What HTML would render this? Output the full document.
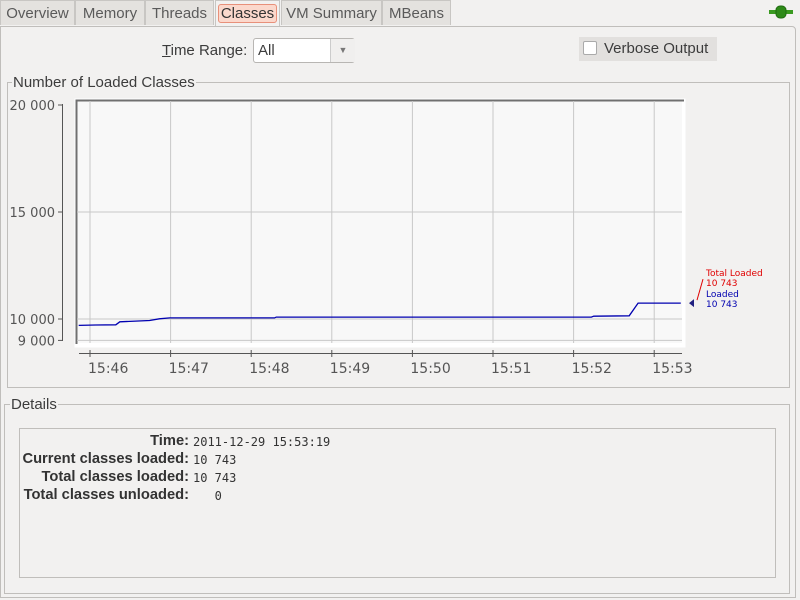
<!DOCTYPE html>
<html><head><meta charset="utf-8"><style>
body{margin:0;width:800px;height:600px;background:#f2f1f0;font-family:"Liberation Sans","DejaVu Sans",sans-serif;position:relative;overflow:hidden;color:#3c3c3c}
.tab{position:absolute;top:0;height:25px;border:1px solid #c8c6c3;border-bottom:none;background:#e4e2df;font-size:15px;color:#5a5a5a;line-height:25px;text-align:center;box-sizing:border-box}
.abs{position:absolute}
</style></head><body>
<div class="tab" style="left:0;width:75px">Overview</div>
<div class="tab" style="left:75px;width:70px">Memory</div>
<div class="tab" style="left:145px;width:69px">Threads</div>
<div class="tab" style="left:215px;width:65px;background:#f2f1f0;height:27px;color:#333"><span style="border:1px solid #e8907a;background:#fbd8cc;border-radius:3px;padding:0 2px">Classes</span></div>
<div class="tab" style="left:281px;width:101px">VM Summary</div>
<div class="tab" style="left:382px;width:69px">MBeans</div>
<svg class="abs" style="left:768px;top:4px" width="26" height="16"><rect x="1" y="6" width="24" height="4" fill="#3a9a20"/><rect x="8" y="2" width="10" height="12" rx="4" fill="#2e8a18" stroke="#1f6a10"/></svg>
<div class="abs" style="left:0;top:26px;width:796px;height:572px;border:1px solid #c0bebb;border-radius:0 4px 0 0;box-sizing:border-box"></div>
<div class="abs" style="left:162px;top:42px;font-size:15px"><u>T</u>ime Range:</div>
<div class="abs" style="left:253px;top:38px;width:102px;height:25px;border:1px solid #b8b6b3;border-radius:3px;background:#fff;box-sizing:border-box;font-size:15px;line-height:23px;padding-left:4px">All<span style="position:absolute;left:76px;top:0;width:24px;height:23px;border-left:1px solid #ccc;background:#f0efee;color:#777;font-size:9px;text-align:center">▼</span></div>
<div class="abs" style="left:579px;top:37px;width:138px;height:24px;background:#e2e0de;font-size:15px;line-height:24px"><span style="display:inline-block;width:12px;height:12px;border:1px solid #aaa;border-radius:2px;background:#fff;margin:0 7px 0 4px;vertical-align:-2px"></span>Verbose Output</div>
<div class="abs" style="left:7px;top:82px;width:783px;height:306px;border:1px solid #c0bebb;box-sizing:border-box"></div>
<div class="abs" style="left:12px;top:74px;background:#f2f1f0;font-size:15px;padding:0 1px">Number of Loaded Classes</div>
<div class="abs" style="left:4px;top:404px;width:786px;height:190px;border:1px solid #c0bebb;box-sizing:border-box"></div>
<div class="abs" style="left:10px;top:396px;background:#f2f1f0;font-size:15px;padding:0 1px">Details</div>
<div class="abs" style="left:19px;top:428px;width:757px;height:150px;border:1px solid #c0bebb;box-sizing:border-box"></div>
<div class="abs" style="left:0px;top:432px;width:189px;text-align:right;white-space:nowrap;font-weight:bold;font-size:14.7px;line-height:18px;color:#333">Time:<br>Current classes loaded:<br>Total classes loaded:<br>Total classes unloaded:</div>
<div class="abs" style="left:193px;top:433px;font-family:'DejaVu Sans Mono',monospace;font-size:12px;line-height:18px;color:#333">2011-12-29 15:53:19<br>10 743<br>10 743<br>&nbsp;&nbsp;&nbsp;0</div>
<svg id="chart" class="abs" style="left:0;top:0" width="800" height="400"></svg>
<script>
const xTicks=["15:46","15:47","15:48","15:49","15:50","15:51","15:52","15:53"];
const yTicks=[9000,10000,15000,20000];
const yTickLabels=["9 000","10 000","15 000","20 000"];
const times=[-0.14,0.07,0.32,0.37,0.74,0.86,0.99,2.29,2.31,6.22,6.25,6.69,6.80,7.33];
const loaded=[9700,9720,9730,9870,9930,10010,10050,10050,10090,10090,10130,10150,10743,10743];
const svg=document.getElementById('chart');
const NS='http://www.w3.org/2000/svg';
const xs=m=>90+m*80.6;
const ys=v=>319-(v-10000)*0.0214;
function mk(t,a){const e=document.createElementNS(NS,t);for(const k in a)e.setAttribute(k,a[k]);svg.appendChild(e);return e;}
let r=mk('rect',{x:74.5,y:98.5,width:611,height:249,fill:'#fff',stroke:'none'});


r=mk('rect',{x:77,y:101,width:605,height:242,fill:'#f8f8f8'});


mk('path',{d:'M76.5,344V100.5H684',stroke:'#707070','stroke-width':2,fill:'none'});
xTicks.forEach((t,i)=>{const x=xs(i);
 let g=mk('line',{x1:x,x2:x,y1:101,y2:343,stroke:'#c8c8c8'});
 
 
 mk('line',{x1:x,x2:x,y1:350,y2:357,stroke:'#555'});
 let tx=mk('text',{x:x-2,y:373,'text-anchor':'start','font-size':14,fill:'#555','font-family':'DejaVu Sans,sans-serif'});
 tx.textContent=t;
 
 
});
mk('line',{x1:79,x2:682,y1:353.5,y2:353.5,stroke:'#555'});
mk('line',{x1:62.5,x2:62.5,y1:104,y2:341,stroke:'#555'});
yTicks.forEach((v,i)=>{const y=ys(v);
 if(v!==20000){let g=mk('line',{x1:77,x2:682,y1:y,y2:y,stroke:'#c8c8c8'});
 
 }
 mk('line',{x1:58,x2:63,y1:y,y2:y,stroke:'#555'});
 let tx=mk('text',{x:55,y:y+5,'text-anchor':'end','font-size':13,fill:'#555','font-family':'DejaVu Sans,sans-serif'});
 tx.textContent=yTickLabels[i];
 
 
});
const pts=times.map((t,i)=>xs(t).toFixed(1)+','+ys(loaded[i]).toFixed(1)).join(' ');
let pl=mk('polyline',{points:pts,fill:'none',stroke:'#0000b0','stroke-width':1.3});


const last=loaded[loaded.length-1], ly=ys(last);
const fmt=v=>String(v).replace(/\B(?=(\d{3})+(?!\d))/g,' ');
mk('path',{d:`M689,${ly} l5,-4 v8z`,fill:'#202080'});
mk('line',{x1:697,x2:703,y1:ly-3,y2:ly-24,stroke:'#e00000'});
const lab=[["Total Loaded",'#e00000',-27],[fmt(last),'#e00000',-17],["Loaded",'#0000b0',-6],[fmt(last),'#0000b0',4]];
lab.forEach(l=>{let t=mk('text',{x:706,y:ly+l[2],'font-size':9,fill:l[1],'font-family':'DejaVu Sans,sans-serif'});t.textContent=l[0];
 
 });
</script>
</body></html>
